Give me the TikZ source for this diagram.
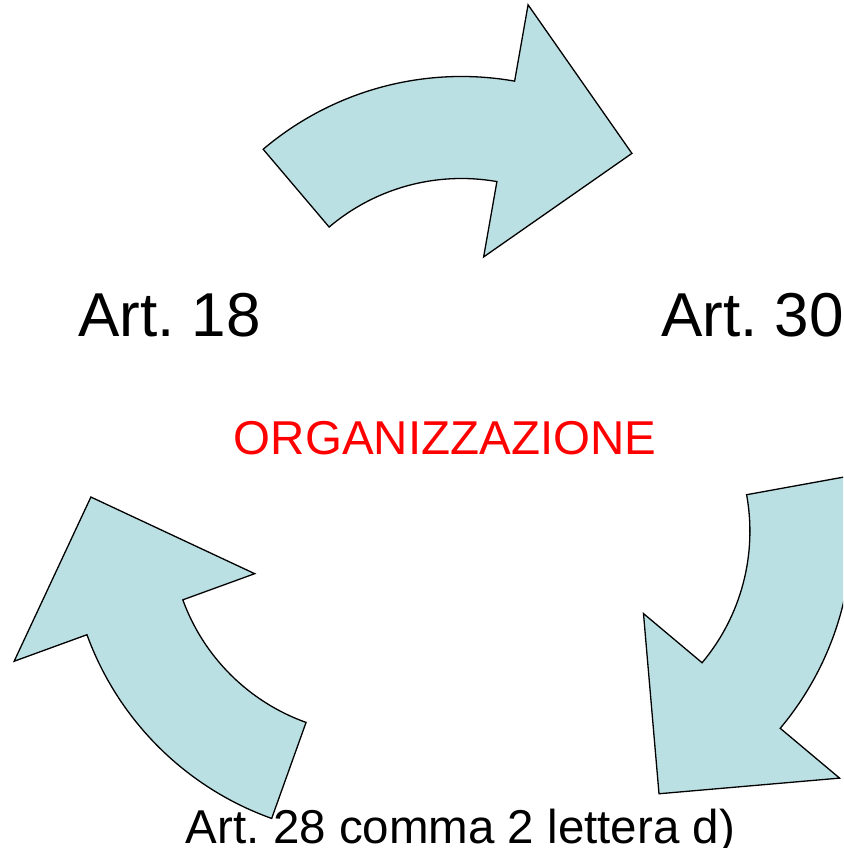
\documentclass[tikz,border=0pt]{standalone}
\usepackage{fontspec}
\setmainfont{Liberation Sans}
\frenchspacing

\definecolor{arrowfill}{RGB}{187,224,227}
\definecolor{titlered}{RGB}{255,0,0}

\tikzset{
  cycarrow/.style={fill=arrowfill, draw=black, line width=1.3pt, line join=miter},
  bigart/.style={inner sep=0pt, font=\fontsize{62}{70}\selectfont},
  midtext/.style={inner sep=0pt, font=\fontsize{47.5}{56}\selectfont},
}

\begin{document}
\begin{tikzpicture}[x=1pt, y=1pt]
  \useasboundingbox (0,0) rectangle (843,848);
  % centre of the cycle
  \coordinate (O) at (460.6,366.6);

  \begin{scope}
    \clip (0,0) rectangle (843,848);
    % three curved arrows, each a copy of the same shape turned by 120 degrees
    \foreach \ang in {0,-120,-240} {
      \begin{scope}[shift={(O)}, rotate=\ang, shift={(0.8,98.4)}]
        \path[cycarrow]
          (130.3:306.5pt) arc[start angle=130.3, end angle=80, radius=306.5pt]
          -- (80:384pt) -- (53.4:286pt) -- (80:128pt) -- (80:204.5pt)
          arc[start angle=80, end angle=130.3, radius=204.5pt] -- cycle;
      \end{scope}
    }

    % labels
    \node[bigart, anchor=base west] (art18) at (78,511.3) {Art. 18};
    \node[bigart, anchor=base west] (art30) at (661,511.3) {Art. 30};
    \node[midtext, anchor=base, text=titlered] (org) at (445,393) {ORGANIZZAZIONE};
    \node[midtext, anchor=base] (art28) at (460.5,5) {Art. 28 comma 2 lettera d)};
  \end{scope}
\end{tikzpicture}
\end{document}
